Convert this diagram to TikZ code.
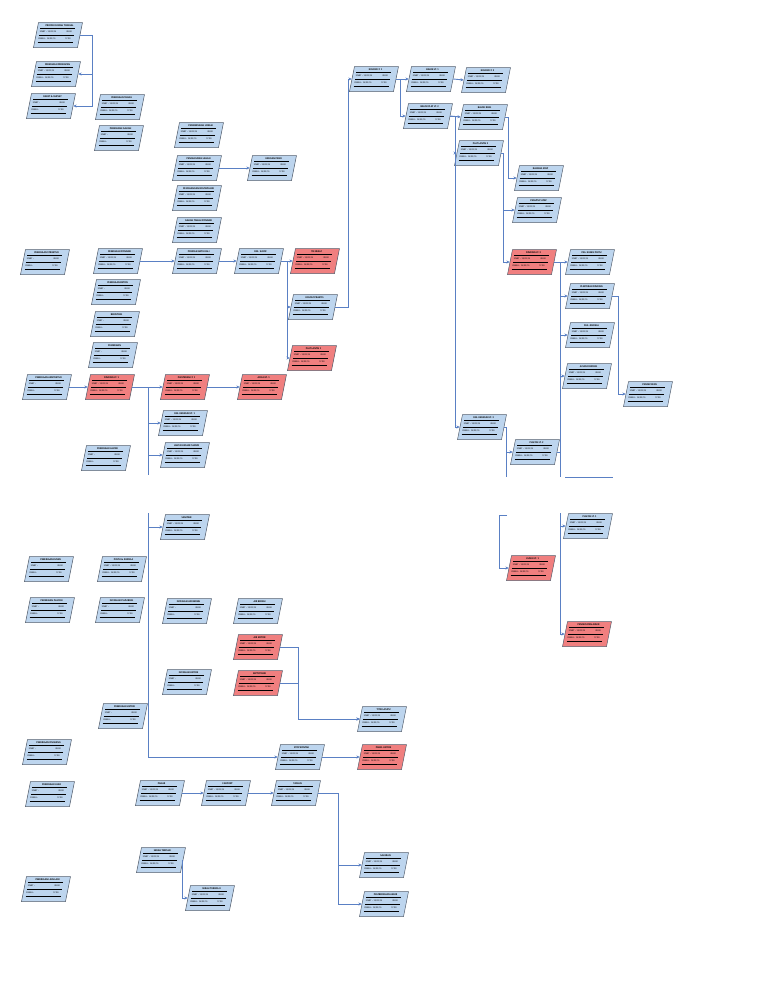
\documentclass[tikz,border=0pt]{standalone}
\usepackage{fontspec}
\setmainfont{Carlito}
\usetikzlibrary{calc,arrows.meta}
\definecolor{boxblue}{HTML}{BDD5EE}
\definecolor{boxred}{HTML}{F07F7F}
\definecolor{edgegray}{HTML}{555F6E}
\definecolor{linkblue}{HTML}{5A80C4}
\newcommand{\ttlfont}{\fontsize{2.6}{2.9}\selectfont\bfseries}
\newcommand{\rowfont}{\fontsize{2.3}{2.6}\selectfont}
\tikzset{
  anchorbox/.style={rectangle,minimum width=44,minimum height=25,inner sep=0pt,draw=none},
  ttl/.style={inner sep=0pt,font=\ttlfont},
  rowtxt/.style={anchor=west,inner sep=0pt,font=\rowfont,text width=32pt},
  conn/.style={draw=linkblue,line width=0.9pt,-{Stealth[length=3.4pt,width=3pt]}},
  plain/.style={draw=linkblue,line width=0.9pt},
}
% name, x, y, colour, title, start row, finish row
\newcommand{\tkbase}[7]{%
  \node[anchorbox] (#1) at (#2,#3) {};
  \filldraw[fill=#4,draw=edgegray,line width=0.5pt] ($(#1.center)+(-19.5,-12.5)$) -- ++(44,0) -- ++(-5,25) -- ++(-44,0) -- cycle;
  \foreach \t in {6.3,12.8,19.8}{\draw[line width=1.1pt] ($(#1.center)+({-16.5-0.2*\t},{\t-12.5})$) -- ++(35,0);}
  \node[ttl] (#1-t) at ($(#1.center)+(1.6,-9.4)$) {#5};
  \node[rowtxt] (#1-s) at ($(#1.center)+(-18.4,-3.1)$) {#6};
  \node[rowtxt] (#1-f) at ($(#1.center)+(-19.7,3.6)$) {#7};
}
\newcommand{\tka}[5]{\tkbase{#1}{#2}{#3}{#4}{#5}{START : 12/01/15\hfill 08.00}{FINISH : 14/01/15\hfill 17.00}}
\newcommand{\tkb}[5]{\tkbase{#1}{#2}{#3}{#4}{#5}{START :\hfill 08.00}{FINISH :\hfill 17.00}}
\begin{document}
\begin{tikzpicture}[x=1pt,y=-1pt]
\fill[white] (0,0) rectangle (768,994);
\useasboundingbox (0,0) rectangle (768,994);
% ---------- upper left ----------
\tka{A1}{58}{35}{boxblue}{PROYEK RUMAH TINGGAL}
\tka{A2}{56}{74}{boxblue}{PEKERJAAN PERSIAPAN}
\tkb{A3}{51}{106}{boxblue}{RAPAT \& SURVEY}
\tka{B1}{120}{107}{boxblue}{PEKERJAAN TANAH}
\tkb{B2}{119}{138}{boxblue}{PEKERJAAN GALIAN}
\tka{C1}{199}{135}{boxblue}{PEMBERSIHAN LOKASI}
\tka{C2}{197}{168}{boxblue}{PENGUKURAN LAHAN}
\tka{C3}{197}{198}{boxblue}{PEMASANGAN BOUWPLANK}
\tka{C4}{197}{230}{boxblue}{GALIAN TANAH PONDASI}
\tka{C5}{197}{261}{boxblue}{PONDASI BATU KALI}
\tka{D1}{272}{168}{boxblue}{URUGAN PASIR}
\tkb{Z1}{45}{262}{boxblue}{PEKERJAAN STRUKTUR}
\tka{B3}{118}{261}{boxblue}{PEKERJAAN PONDASI}
\tkb{B4}{116}{292}{boxblue}{PEKERJAAN BETON}
\tkb{B5}{115}{324}{boxblue}{BEKISTING}
\tkb{B6}{113}{355}{boxblue}{PEMBESIAN}
\tka{E}{259}{261}{boxblue}{PAS. SLOOF}
\tka{F1}{315}{261}{boxred}{TIE BEAM}
\tka{F2}{313}{307}{boxblue}{KOLOM PRAKTIS}
\tka{F3}{312}{358}{boxred}{PLAT LANTAI 1}
% ---------- upper right ----------
\tka{G1}{374}{79}{boxblue}{KOLOM LT. 1}
\tka{G2}{431}{79}{boxblue}{BALOK LT. 1}
\tka{G3}{486}{80}{boxblue}{KOLOM LT. 2}
\tka{G4}{428}{116}{boxblue}{BALOK PLAT LT. 2}
\tka{G5}{483}{117}{boxblue}{BALOK RING}
\tka{H1}{479}{153}{boxblue}{PLAT LANTAI 2}
\tka{H2}{539}{178}{boxblue}{RANGKA ATAP}
\tka{H3}{537}{210}{boxblue}{PENUTUP ATAP}
\tka{I1}{532}{262}{boxred}{DINDING LT. 2}
\tka{J1}{590}{262}{boxblue}{PAS. KUSEN PINTU}
\tka{J2}{590}{296}{boxblue}{PLESTERAN DINDING}
\tka{J3}{590}{335}{boxblue}{PAS. JENDELA}
\tka{J4}{587}{376}{boxblue}{ACIAN DINDING}
\tka{J5}{648}{394}{boxblue}{PENGECATAN}
\tka{H4}{482}{427}{boxblue}{PAS. KERAMIK LT. 2}
\tka{H5}{535}{452}{boxblue}{PLAFON LT. 2}
\tka{K1}{588}{526}{boxblue}{PLAFON LT. 1}
\tka{K2}{531}{568}{boxred}{KUSEN LT. 1}
\tka{K3}{587}{634}{boxred}{PENGECATAN AKHIR}
% ---------- lower left ----------
\tkb{L1}{47}{387}{boxblue}{PEKERJAAN ARSITEKTUR}
\tka{L2}{110}{387}{boxred}{DINDING LT. 1}
\tka{L3}{185}{387}{boxred}{PLESTERAN LT. 1}
\tka{L4}{262}{387}{boxred}{ACIAN LT. 1}
\tka{M1}{183}{423}{boxblue}{PAS. KERAMIK LT. 1}
\tka{M2}{185}{455}{boxblue}{LANTAI KAMAR MANDI}
\tkb{L5}{106}{458}{boxblue}{PEKERJAAN LANTAI}
\tka{M3}{185}{527}{boxblue}{SANITAIR}
\tkb{N1}{49}{569}{boxblue}{PEKERJAAN KUSEN}
\tka{N2}{122}{569}{boxblue}{PINTU \& JENDELA}
\tkb{N3}{50}{610}{boxblue}{PEKERJAAN PLAFON}
\tkb{N4}{120}{610}{boxblue}{INSTALASI PLUMBING}
\tkb{N5}{187}{611}{boxblue}{INSTALASI AIR BERSIH}
\tka{N6}{258}{611}{boxblue}{AIR BERSIH}
\tka{O1}{258}{647}{boxred}{AIR KOTOR}
\tka{O2}{258}{683}{boxred}{SEPTICTANK}
\tkb{O3}{187}{682}{boxblue}{INSTALASI LISTRIK}
\tka{P1}{382}{719}{boxblue}{TITIK LAMPU}
\tka{Q1}{300}{757}{boxblue}{STOP KONTAK}
\tka{Q2}{382}{757}{boxred}{PANEL LISTRIK}
\tkb{N7}{123}{716}{boxblue}{PEKERJAAN LISTRIK}
\tkb{N8}{47}{752}{boxblue}{PEKERJAAN FINISHING}
\tkb{N9}{50}{794}{boxblue}{PEKERJAAN LUAR}
\tka{R1}{160}{793}{boxblue}{PAGAR}
\tka{R2}{226}{793}{boxblue}{CARPORT}
\tka{R3}{296}{793}{boxblue}{TAMAN}
\tka{S1}{384}{865}{boxblue}{SALURAN}
\tka{S2}{384}{904}{boxblue}{PEMBERSIHAN AKHIR}
\tka{T1}{161}{860}{boxblue}{SERAH TERIMA I}
\tka{T2}{210}{898}{boxblue}{SERAH TERIMA II}
\tkb{N10}{46}{889}{boxblue}{PEKERJAAN LAIN-LAIN}
% ---------- bus coordinates ----------
\coordinate (bA) at (92,0);
\coordinate (bE) at (287,0);
\coordinate (bF) at (348,0);
\coordinate (bG) at (400,0);
\coordinate (bH) at (455,0);
\coordinate (bG5) at (508,0);
\coordinate (bH1) at (503,0);
\coordinate (bJ) at (560,0);
\coordinate (bJ2) at (618,0);
\coordinate (bH4) at (506,0);
\coordinate (bL) at (148,0);
\coordinate (bO) at (298,0);
\coordinate (bR) at (338,0);
\coordinate (bT) at (182,0);
\coordinate (jEnd) at (560,477);
\coordinate (hEnd) at (506,477);
\coordinate (lEnd) at (148,475);
\coordinate (lTop) at (148,513);
\coordinate (kTop) at (507,515);
\coordinate (kCorner) at (499,515);
\coordinate (kBus) at (560,513);
\coordinate (cutA) at (565,477);
\coordinate (cutB) at (613,477);
% ---------- connectors ----------
\draw[conn] (A1.east) -| (bA |- A2.east) -- (A2.east);
\draw[conn] (A1.east) -| (bA |- A3.east) -- (A3.east);
\draw[conn] (B3.east) -- (C5.west);
\draw[conn] (C2.east) -- (D1.west);
\draw[conn] (C5.east) -- (E.west);
\draw[conn] (E.east) -- (F1.west);
\draw[conn] (E.east) -| (bE |- F2.west) -- (F2.west);
\draw[conn] (E.east) -| (bE |- F3.west) -- (F3.west);
\draw[conn] (F2.east) -| (bF |- G1.west) -- (G1.west);
\draw[conn] (G1.east) -- (G2.west);
\draw[conn] (G1.east) -| (bG |- G4.west) -- (G4.west);
\draw[conn] (G2.east) -- (G3.west);
\draw[conn] (G4.east) -- (G5.west);
\draw[conn] (G4.east) -| (bH |- H1.west) -- (H1.west);
\draw[conn] (G4.east) -| (bH |- H4.west) -- (H4.west);
\draw[conn] (G5.east) -| (bG5 |- H2.west) -- (H2.west);
\draw[conn] (H1.east) -| (bH1 |- H3.west) -- (H3.west);
\draw[conn] (H1.east) -| (bH1 |- I1.west) -- (I1.west);
\draw[conn] (I1.east) -- (J1.west);
\draw[conn] (I1.east) -| (bJ |- J2.west) -- (J2.west);
\draw[conn] (I1.east) -| (bJ |- J3.west) -- (J3.west);
\draw[conn] (I1.east) -| (bJ |- J4.west) -- (J4.west);
\draw[plain] (bJ |- J4.west) -- (jEnd);
\draw[plain] (H5.east) -- (bJ |- H5.east);
\draw[conn] (J2.east) -| (bJ2 |- J5.west) -- (J5.west);
\draw[conn] (H4.east) -| (bH4 |- H5.west) -- (H5.west);
\draw[plain] (bH4 |- H5.west) -- (hEnd);
\draw[plain] (cutA) -- (cutB);
\draw[conn] (kTop) -- (kCorner) |- (K2.west);
\draw[conn] (kBus) |- (K1.west);
\draw[conn] (kBus) |- (K3.west);
\draw[conn] (L1.east) -- (L2.west);
\draw[conn] (L2.east) -- (L3.west);
\draw[conn] (L2.east) -| (bL |- M1.west) -- (M1.west);
\draw[conn] (L2.east) -| (bL |- M2.west) -- (M2.west);
\draw[plain] (bL |- M2.west) -- (lEnd);
\draw[conn] (L3.east) -- (L4.west);
\draw[conn] (lTop) |- (M3.west);
\draw[conn] (lTop) |- (Q1.west);
\draw[conn] (Q1.east) -- (Q2.west);
\draw[conn] (O1.east) -| (bO |- P1.west) -- (P1.west);
\draw[conn] (O2.east) -| (bO |- P1.west) -- (P1.west);
\draw[conn] (R1.east) -- (R2.west);
\draw[conn] (R2.east) -- (R3.west);
\draw[conn] (R3.east) -| (bR |- S1.west) -- (S1.west);
\draw[conn] (R3.east) -| (bR |- S2.west) -- (S2.west);
\draw[conn] (T1.east) -| (bT |- T2.west) -- (T2.west);
\end{tikzpicture}
\end{document}
